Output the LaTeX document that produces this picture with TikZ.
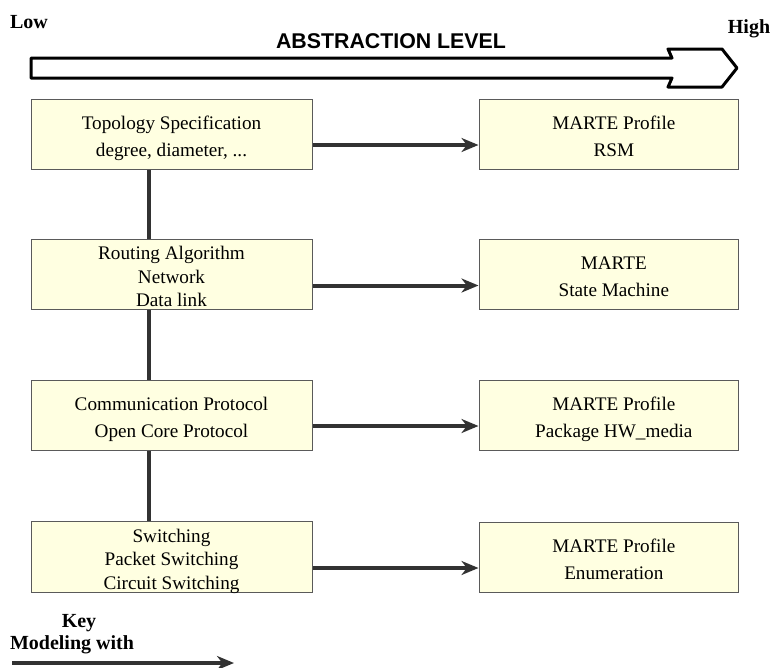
\documentclass[tikz,border=0pt]{standalone}
\usepackage{fontspec}
\setmainfont{Liberation Serif}
\newfontfamily\headfont{Liberation Sans}
\usetikzlibrary{arrows.meta}
\newlength{\boxheight}
\setlength{\boxheight}{52.5pt}
\definecolor{boxfill}{RGB}{255,255,225}
\definecolor{boxline}{RGB}{90,90,90}
\definecolor{linkcol}{RGB}{50,50,50}
% box text, set a little low (and optionally to the right) as in the original
\newcommand{\layertext}[2][0pt]{\hspace*{#1}\raisebox{-3pt}[\height][\depth]{\begin{tabular}{@{}c@{}}#2\end{tabular}}}
\tikzset{layer/.style = {shape=rectangle,draw=boxline,line width=0.75pt,fill=boxfill,minimum height=\boxheight,minimum width=210.75pt,inner sep=0pt,font=\fontsize{14.4}{17.6}\selectfont}}
\tikzset{model/.style = {layer,minimum width=194.25pt}}
\tikzset{link/.style = {draw=linkcol,line width=3pt}}
\tikzset{edge/.style = {link,-{Stealth[length=12.75pt,width=10.5pt,inset=4pt]}}}
\tikzset{tag/.style = {font=\fontsize{15}{17}\selectfont\bfseries}}

\begin{document}
\begin{tikzpicture}[x=0.75pt,y=-0.75pt]
                \useasboundingbox (0,0) rectangle (776,668);
                % abstraction axis
                \node[tag] (low) at (29,22) {Low};
                \node[tag] (high) at (749,29) {High};
                \node[font=\headfont\fontsize{16}{18}\selectfont\bfseries] (axis) at (391,41) {ABSTRACTION LEVEL};
                \draw[line width=2.25pt,line join=round] (31,58) -- (672,58) -- (668,49) -- (722,49) -- (737,68)
                    -- (722,87) -- (668,87) -- (672,78) -- (31,78) -- cycle;
                % network layers
                \node[layer] (topo) at (171.5,134) {\layertext{Topology Specification\\[2.6pt] degree, diameter, ...}};
                \node[layer] (routing) at (171.5,274.5) {\layertext{Routing Algorithm\\ Network\\ Data link}};
                \node[layer] (comm) at (171.5,415) {\layertext{Communication Protocol\\[2.6pt] Open Core Protocol}};
                \node[layer] (switching) at (171.5,557) {\layertext{Switching\\ Packet Switching\\ Circuit Switching}};
                \draw[link] ([xshift=-17.25pt]topo.south) -- ([xshift=-17.25pt]routing.north);
                \draw[link] ([xshift=-17.25pt]routing.south) -- ([xshift=-17.25pt]comm.north);
                \draw[link] ([xshift=-17.25pt]comm.south) -- ([xshift=-17.25pt]switching.north);
                % MARTE models
                \node[model] (rsm) at (608.5,134) {\layertext[8pt]{MARTE Profile\\[2.6pt] RSM}};
                \draw[edge] ([yshift=-8.25pt]topo.east) -- ([yshift=-8.25pt]rsm.west);
                \node[model] (statemach) at (608.5,274.5) {\layertext[8pt]{MARTE\\[2.6pt] State Machine}};
                \draw[edge] ([yshift=-8.25pt]routing.east) -- ([yshift=-8.25pt]statemach.west);
                \node[model] (hwmedia) at (608.5,415) {\layertext[8pt]{MARTE Profile\\[2.6pt] Package HW\_media}};
                \draw[edge] ([yshift=-8.25pt]comm.east) -- ([yshift=-8.25pt]hwmedia.west);
                \node[model] (enum) at (608.5,557) {\layertext[8pt]{MARTE Profile\\[2.6pt] Enumeration}};
                \draw[edge] ([yshift=-8.25pt]switching.east) -- ([yshift=-8.25pt]enum.west);
                % key
                \node[tag] (key) at (79,623) {Key};
                \node[tag] (modeling) at (72,645) {Modeling with};
                \coordinate (keystart) at (12,663);
                \coordinate (keyend) at (234,663);
                \draw[edge] (keystart) -- (keyend);
            \end{tikzpicture}
\end{document}
